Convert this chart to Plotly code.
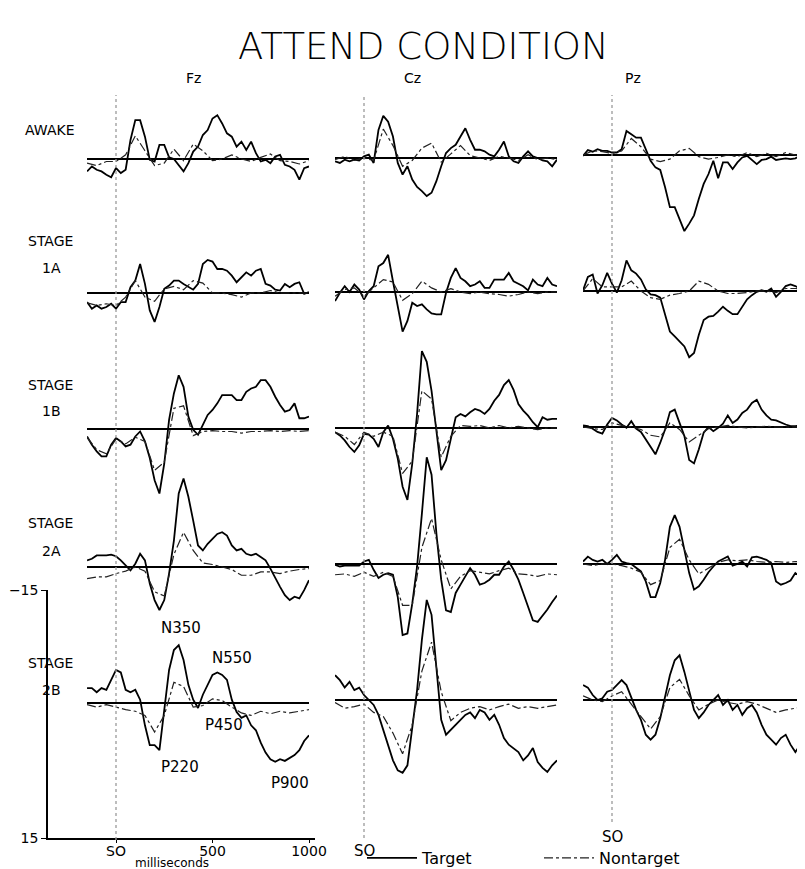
import plotly.graph_objects as go

# ---------------------------------------------------------------
# ERP data (microvolts, negative plotted up)
# ---------------------------------------------------------------
t_target = list(range(-150, 1001, 25))      # ms, target sampled every 25 ms
t_nontarget = list(range(-150, 1001, 50))   # ms, nontarget every 50 ms

# Fz
fz_awake_target = [1.5, 0.9, 1.3, 1.5, 1.9, 2.2, 1.1, 1.7, 1.3, -2.3, -4.7, -4.7, -2.7, 0.1, 0.3,
                   -1.7, -1.7, -0.2, 0.0, 0.7, 1.5, 0.5, -0.9, -1.5, -2.9, -3.5, -4.9, -5.3, -4.3, -3.1, -2.7,
                   -1.5, -2.1, -1.1, -2.1, -0.7, 0.3, 0.1, 0.5, -0.3, -0.5, 0.7, 0.9, 1.3, 2.5, 1.1, 0.9]
fz_1a_target = [1.1, 1.9, 1.5, 1.9, 1.7, 1.3, 1.9, 1.1, 1.1, -0.7, -1.5, -3.5, -1.1, 2.1, 3.5,
                1.7, -0.5, -0.9, -1.5, -1.5, -1.1, -0.8, -0.4, -1.1, -3.5, -4.0, -3.8, -2.9, -2.9, -2.7, -2.1,
                -1.3, -1.9, -2.5, -2.1, -2.7, -2.9, -1.1, -0.9, -0.4, -0.3, -1.1, -0.7, -1.1, -1.3, 0.1, -0.1]
fz_1b_target = [0.9, 1.9, 2.7, 3.3, 3.3, 1.9, 1.1, 1.5, 2.1, 1.9, 0.9, 0.3, 1.5, 3.5, 6.2,
                7.8, 4.2, -1.1, -4.3, -6.5, -5.1, -1.5, 0.1, 0.7, -0.5, -1.7, -2.3, -3.1, -4.1, -4.1, -4.1,
                -3.5, -3.5, -4.5, -4.9, -5.1, -5.9, -5.9, -5.1, -3.9, -2.9, -2.1, -2.3, -3.1, -1.3, -1.3, -1.5]
fz_2a_target = [-0.8, -1.0, -1.4, -1.4, -1.4, -1.5, -1.3, -0.8, -0.2, 0.4, -0.4, -1.6, -0.8, 2.0, 4.0,
                5.2, 4.0, 0.8, -3.2, -8.9, -10.7, -8.5, -5.6, -2.6, -2.0, -2.8, -3.4, -4.0, -4.2, -3.8, -2.6,
                -2.0, -2.2, -1.6, -1.4, -1.6, -1.2, -0.8, 0.2, 1.4, 2.4, 3.4, 4.0, 3.6, 3.8, 2.8, 1.6]
fz_2b_target = [-1.8, -1.8, -1.3, -1.8, -1.6, -2.8, -4.0, -3.7, -1.6, -1.3, -1.6, -0.4, 2.7, 5.1, 5.1,
                5.7, 0.8, -4.0, -6.4, -7.0, -5.2, -2.2, -0.4, 0.6, -1.0, -2.2, -3.4, -3.7, -3.4, -2.8, -0.4,
                1.1, 1.8, 1.5, 2.7, 3.3, 4.8, 6.0, 6.8, 7.1, 6.8, 7.0, 6.6, 6.3, 5.7, 4.6, 3.9]

fz_awake_nontarget = [0.5, 0.8, 0.3, 0.3, -0.5, -2.8, -1.0, 0.8, 0.5, -1.2, 0.2, -1.8,
                      -1.0, 0.2, 0.0, -0.5, 0.0, 0.3, -0.2, -0.6, 0.2, 0.3, 0.6, 0.2]
fz_1a_nontarget = [1.2, 1.5, 1.3, 1.5, 0.5, -1.5, 0.5, 1.0, -0.5, -0.8, -0.4, -1.5,
                   -1.2, 0.0, 0.0, 0.2, 0.5, 0.0, 0.0, -0.3, 0.0, 0.0, 0.0, 0.0]
fz_1b_nontarget = [1.0, 2.5, 3.0, 1.2, 1.8, 1.0, 1.5, 5.0, 4.0, -2.5, -2.8, 0.8,
                   0.3, 0.2, 0.3, 0.3, 0.5, 0.3, 0.3, 0.2, 0.3, 0.2, 0.3, 0.2]
fz_2a_nontarget = [1.4, 1.2, 1.2, 0.8, 0.5, 0.0, 0.5, 3.0, 3.5, -1.5, -4.2, -2.0,
                   -0.5, -0.3, 0.0, 0.3, 1.0, 1.0, 0.6, 0.6, 0.8, 0.5, 0.3, 0.2]
fz_2b_nontarget = [0.2, 0.5, 0.2, 0.5, 0.8, 1.0, 1.5, 3.5, 1.5, -2.5, -2.0, 0.5,
                   0.3, -0.5, -0.3, 0.5, 1.2, 1.5, 1.0, 1.3, 1.0, 1.2, 1.0, 0.8]

# Cz
cz_awake_target = [0.4, 0.6, 0.2, 0.4, 0.2, 0.3, -0.2, -0.4, 0.6, -3.4, -5.1, -4.4, -2.6, 0.6, 2.0,
                   1.0, 2.6, 3.5, 4.0, 4.6, 4.2, 2.8, 1.0, -0.6, -1.2, -1.6, -2.6, -3.6, -2.2, -1.0, -1.0,
                   -0.8, -0.4, -0.2, -1.0, -2.0, -0.2, 0.4, 0.6, -0.2, -0.8, -0.2, 0.0, 0.3, 0.4, 1.0, 0.2]
cz_1a_target = [1.1, 0.1, -0.7, 0.0, -0.9, -0.3, 0.9, -0.1, -0.7, -3.1, -3.5, -4.5, -1.3, 1.7, 4.8,
                3.5, 1.3, 1.7, 1.5, 2.1, 2.6, 2.7, 2.7, 0.1, -1.7, -2.9, -1.7, -1.3, -0.7, -0.9, -1.3,
                -0.5, -0.5, -1.5, -1.5, -1.5, -2.3, -1.3, -1.0, -0.7, -0.2, -1.5, -0.9, -0.7, -1.7, -0.9, -0.7]
cz_1b_target = [0.5, 0.9, 1.5, 2.3, 2.9, 2.1, 0.7, 0.8, 1.3, 2.3, 0.5, -0.3, 1.3, 3.7, 7.1,
                8.7, 4.3, -1.7, -9.3, -8.0, -4.5, 0.3, 5.1, 3.9, 1.1, -1.3, -1.7, -1.4, -1.9, -2.3, -2.1,
                -1.7, -2.3, -3.3, -4.0, -5.2, -5.8, -4.6, -2.9, -2.1, -1.5, -0.7, -0.1, -1.3, -1.0, -1.1, -1.1]
cz_2a_target = [0.1, 0.3, 0.2, 0.2, 0.2, 0.2, -0.3, -0.5, 0.7, 1.7, 1.3, 1.1, 1.3, 4.0, 8.6,
                8.4, 4.8, 0.3, -6.1, -12.9, -10.8, -3.7, 1.9, 5.6, 5.8, 3.5, 2.5, 1.5, 0.5, 1.3, 2.5,
                2.3, 1.9, 1.3, 1.3, 0.3, -0.3, 0.7, 1.9, 3.5, 5.2, 6.8, 7.0, 6.3, 5.5, 4.6, 3.8]
cz_2b_target = [-3.0, -2.4, -1.5, -2.2, -1.2, -1.5, -0.6, 0.0, 0.6, 1.8, 3.6, 5.4, 7.3, 8.5, 8.8,
                7.9, 3.6, -1.2, -7.3, -12.1, -10.3, -3.6, 2.4, 4.2, 3.6, 3.0, 2.4, 1.8, 1.5, 2.2, 1.2,
                1.5, 2.4, 1.8, 3.0, 4.6, 5.4, 5.8, 6.3, 7.3, 6.7, 5.8, 7.5, 8.2, 8.7, 7.9, 7.3]

cz_awake_nontarget = [0.2, -0.2, 0.3, 0.0, 0.3, -3.5, -1.5, 1.0, 0.3, -1.2, -1.8, 0.5,
                      -0.5, -1.5, -0.3, 0.0, 0.3, -0.2, 0.0, 0.3, -0.4, 0.2, 0.0, 0.2]
cz_1a_nontarget = [0.5, -0.3, -0.5, 0.5, -0.5, -1.5, -1.2, 1.0, 0.2, -1.3, -0.5, 0.0,
                   -0.4, 0.0, 0.2, 0.0, 0.2, 0.3, 0.5, 0.3, 0.0, 0.2, 0.0, 0.0]
cz_1b_nontarget = [0.5, 1.0, 2.0, 0.5, 1.0, 0.5, 1.0, 5.5, 4.0, -4.5, -3.5, 3.5,
                   1.0, -0.3, -0.2, -0.3, 0.0, -0.3, 0.0, -0.2, 0.0, 0.2, 0.0, 0.0]
cz_2a_nontarget = [1.3, 1.2, 1.5, 1.0, 1.5, 1.0, 1.5, 5.0, 5.0, -2.0, -5.5, -0.5,
                   3.0, 1.5, 0.8, 1.0, 1.2, 0.8, 0.5, 1.2, 1.3, 1.5, 1.2, 1.3]
cz_2b_nontarget = [0.3, 1.0, 0.8, 0.5, 1.5, 2.0, 4.0, 6.5, 3.0, -3.5, -7.0, -1.0,
                   2.5, 1.5, 1.0, 0.8, 1.2, 0.8, 0.5, 1.0, 0.8, 1.0, 0.8, 0.6]

# Pz
pz_awake_target = [0.1, -0.6, -0.4, -0.7, -0.5, -0.5, -0.3, -0.3, -0.7, -2.9, -2.5, -2.1, -2.1, -0.7, 0.7,
                   1.5, 1.8, 3.9, 6.3, 6.3, 7.7, 9.2, 8.3, 7.3, 5.3, 3.5, 2.3, 0.7, 2.8, 0.9, 0.9,
                   1.7, 0.9, 0.3, 0.1, 0.6, 1.1, 0.6, 0.5, 0.2, 0.6, 0.5, 0.4, 0.5, 0.4, 0.1, -0.1]
pz_1a_target = [-0.1, -1.7, -2.0, 0.3, -0.7, -2.2, -0.9, 0.2, -1.3, -3.7, -2.5, -2.1, -1.4, -0.2, 0.4,
                0.5, 0.8, 2.7, 4.9, 5.5, 6.1, 6.7, 8.0, 7.5, 5.3, 3.5, 3.1, 3.0, 2.5, 1.9, 2.4,
                2.8, 2.8, 1.9, 1.0, 0.5, 0.1, -0.1, 0.1, -0.3, 0.7, 0.1, -0.6, -0.8, -0.6, -0.3, -0.3]
pz_1b_target = [-0.2, -0.1, 0.2, 0.6, 0.8, -0.3, -1.1, -0.8, -0.3, 0.1, -0.7, 0.2, 0.6, 1.5, 2.5,
                3.3, 1.9, 0.3, -1.8, -2.1, -0.5, 1.1, 4.0, 4.4, 2.7, 0.7, 0.0, 0.5, 0.1, -0.4, -1.4,
                -0.5, -0.9, -1.7, -2.1, -2.9, -3.3, -2.1, -1.4, -0.9, -0.8, -0.5, -0.3, -0.1, -0.1, -0.2, -0.9]
pz_2a_target = [-0.3, -0.9, -0.5, -0.3, -0.5, 0.0, -0.5, -1.1, -0.3, -0.1, 0.0, 0.4, 0.9, 2.1, 4.0,
                4.0, 2.3, -0.5, -4.5, -5.9, -4.5, -1.7, 1.1, 3.1, 2.7, 1.9, 1.0, 0.3, -0.3, -0.6, -0.9,
                0.2, 0.0, -0.3, 0.3, -0.8, -0.9, -0.7, -0.5, -0.1, 2.1, 2.5, 2.3, 2.0, 1.1, 1.5, 1.1]
pz_2b_target = [-1.8, -1.5, -0.6, 0.0, -0.2, -1.0, -1.2, -1.8, -2.4, -1.8, -0.2, 1.2, 2.4, 4.2, 4.8,
                4.2, 2.2, -0.6, -3.0, -4.8, -5.4, -3.4, -1.2, 1.2, 2.2, 1.5, 0.6, 0.0, -0.6, 0.6, 0.0,
                1.2, 0.6, 1.8, 1.0, 0.6, 1.5, 3.0, 4.2, 4.8, 5.4, 4.6, 4.2, 5.4, 6.3, 5.4, 4.2]

pz_awake_nontarget = [0.0, -0.5, -0.4, -0.2, -0.5, -2.0, -1.0, 0.5, 0.8, 0.5, -0.5, -0.8,
                      0.2, 0.5, 0.3, 0.0, 0.2, -0.3, 0.2, -0.2, 0.2, -0.3, 0.0, 0.0]
pz_1a_nontarget = [0.0, -1.5, -0.5, -0.5, -0.5, -1.2, 0.0, 0.8, 1.0, 0.5, 0.3, 0.0,
                   -1.2, -0.8, 0.0, 0.3, 0.3, 0.2, 0.0, 0.0, 0.2, -0.3, -0.3, -0.2]
pz_1b_nontarget = [0.0, 0.2, 0.3, -0.5, -0.2, 0.0, 0.3, 1.0, 1.2, -0.5, 0.3, 1.8,
                   1.0, 0.2, 0.0, -0.2, 0.0, 0.1, 0.0, -0.1, 0.0, 0.0, 0.0, 0.0]
pz_2a_nontarget = [0.0, 0.2, 0.0, 0.0, 0.2, 0.5, 1.0, 2.5, 2.0, -2.0, -3.0, -0.5,
                   1.2, 0.5, -0.2, -0.5, -0.4, -0.5, -0.3, -0.2, -0.3, -0.2, -0.3, -0.2]
pz_2b_nontarget = [-0.5, 0.0, 0.2, -0.5, -1.0, 0.5, 2.0, 3.5, 2.0, -1.5, -2.5, -0.5,
                   1.2, 0.5, 0.0, 0.3, 0.5, 0.2, 0.5, 1.0, 1.5, 1.2, 1.0, 0.8]

electrodes = ["Fz", "Cz", "Pz"]
stage_words = ["AWAKE", "STAGE", "STAGE", "STAGE", "STAGE"]
stage_codes = ["", "1A", "1B", "2A", "2B"]

targets = [
    [fz_awake_target, cz_awake_target, pz_awake_target],
    [fz_1a_target, cz_1a_target, pz_1a_target],
    [fz_1b_target, cz_1b_target, pz_1b_target],
    [fz_2a_target, cz_2a_target, pz_2a_target],
    [fz_2b_target, cz_2b_target, pz_2b_target],
]
nontargets = [
    [fz_awake_nontarget, cz_awake_nontarget, pz_awake_nontarget],
    [fz_1a_nontarget, cz_1a_nontarget, pz_1a_nontarget],
    [fz_1b_nontarget, cz_1b_nontarget, pz_1b_nontarget],
    [fz_2a_nontarget, cz_2a_nontarget, pz_2a_nontarget],
    [fz_2b_nontarget, cz_2b_nontarget, pz_2b_nontarget],
]

# Fz 2B component labels (ms, uV)
peak_names = ["N350", "N550", "P450", "P220", "P900"]
peak_ms = [335, 600, 560, 330, 900]
peak_uv = [-9.1, -5.4, 2.7, 7.7, 9.7]

# ---------------------------------------------------------------
# page geometry (pixels as seen in the screenshot)
# ---------------------------------------------------------------
W, H = 805, 869
PAGE = 8      # default body margin of the html page
UV = 8.27     # px per microvolt
MS = 0.193    # px per millisecond
so_x = [116, 364, 612]
so_bottom = [840, 838, 822]
base_y = [[159, 158, 155], [293, 292, 291], [429, 428, 427], [567, 564, 564], [703, 700, 700]]
row_word_y = [130, 241, 385, 523, 663]
row_code_y = [None, 268, 411, 551, 690]
FONT = "DejaVu Sans"
BLACK = "black"


def px(x):
    return (x - PAGE) / W


def py(y):
    return 1 - (y - PAGE) / H


def ax_name(kind, n):
    return kind if n == 1 else f"{kind}{n}"


fig = go.Figure()
layout = {}

for c in range(3):
    x0 = so_x[c] - 150 * MS
    x1 = so_x[c] + 1000 * MS
    layout[ax_name("xaxis", c + 1)] = dict(
        domain=[px(x0), min(px(x1), 1.0)], range=[-150, 1000],
        visible=False, anchor=ax_name("y", c + 1))

for r in range(5):
    for c in range(3):
        n = r * 3 + c + 1
        b = base_y[r][c] - PAGE
        layout[ax_name("yaxis", n)] = dict(
            domain=[0, 1], range=[(H - b) / UV, -b / UV], anchor=ax_name("x", c + 1),
            showticklabels=False, ticks="", showgrid=False, showline=False,
            zeroline=True, zerolinecolor=BLACK, zerolinewidth=1.5)
        xr, yr = ax_name("x", c + 1), ax_name("y", n)
        fig.add_trace(go.Scatter(
            x=t_target, y=targets[r][c], xaxis=xr, yaxis=yr, mode="lines",
            line=dict(color=BLACK, width=1.8), name="Target",
            showlegend=(n == 1), hoverinfo="skip"))
        fig.add_trace(go.Scatter(
            x=t_nontarget, y=nontargets[r][c], xaxis=xr, yaxis=yr, mode="lines",
            line=dict(color="#222222", width=1.2, dash="dashdot"), name="Nontarget",
            showlegend=(n == 1), hoverinfo="skip"))

# scale bar axes (bottom left of Fz)
layout["xaxis4"] = dict(
    domain=[px(48), px(315)], range=[(48 - so_x[0]) / MS, (315 - so_x[0]) / MS],
    anchor="y16", showline=True, linecolor=BLACK, linewidth=1.5, showgrid=False, zeroline=False,
    ticks="outside", ticklen=3, tickcolor=BLACK, tickvals=[0, 500, 1000], ticklabelstandoff=-4,
    ticktext=["SO", "500", "1000"], tickfont=dict(size=14, family=FONT, color=BLACK))
layout["yaxis16"] = dict(
    domain=[py(838), py(590)], range=[15, -15], anchor="x4",
    showline=True, linecolor=BLACK, linewidth=1.5, showgrid=False, zeroline=False,
    ticks="outside", ticklen=5, tickcolor=BLACK, tickvals=[-15, 15],
    ticktext=["\u221215", "15"], tickfont=dict(size=14, family=FONT, color=BLACK))
# an empty trace so the scale subplot is drawn
fig.add_trace(go.Scatter(x=[], y=[], xaxis="x4", yaxis="y16", showlegend=False))

shapes = []
for c in range(3):
    shapes.append(dict(type="line", xref=ax_name("x", c + 1), yref="paper",
                       x0=0, x1=0, y0=py(so_bottom[c]), y1=py(95),
                       line=dict(color="#9a9a9a", width=1.3, dash="dot")))


def label(text, x, y, size=15, xref="paper", yref="paper", **font):
    return dict(text=text, x=x, y=y, xref=xref, yref=yref, showarrow=False,
                xanchor="center", yanchor="middle", align="center",
                font=dict(size=size, family=FONT, color=BLACK, **font))


annotations = [label("ATTEND CONDITION", px(423), py(47), size=37, weight=200)]
for c, name in enumerate(electrodes):
    annotations.append(label(name, px([193, 413, 633][c]), py(78), size=14))
for r in range(5):
    annotations.append(label(stage_words[r], px(50), py(row_word_y[r]), size=14))
    if stage_codes[r]:
        annotations.append(label(stage_codes[r], px(51), py(row_code_y[r]), size=14))
for name, t, v in zip(peak_names, peak_ms, peak_uv):
    annotations.append(label(name, t, v, size=15, xref="x", yref="y13"))
annotations.append(label("milliseconds", px(172), py(863), size=12))
for c, ypos in [(1, 851), (2, 837)]:
    annotations.append(label("SO", 0, py(ypos), xref=ax_name("x", c + 1)))

fig.update_layout(
    **layout,
    template="none",
    width=W, height=H, autosize=False,
    margin=dict(l=0, r=0, t=0, b=0, autoexpand=False),
    plot_bgcolor="rgba(0,0,0,0)", paper_bgcolor="white",
    shapes=shapes, annotations=annotations,
    legend=dict(orientation="h", x=px(362), y=py(858), xanchor="left", yanchor="middle",
                font=dict(size=16, family=FONT, color=BLACK), entrywidth=112,
                bgcolor="rgba(0,0,0,0)", itemwidth=50),
)

fig.write_html("out.html")
